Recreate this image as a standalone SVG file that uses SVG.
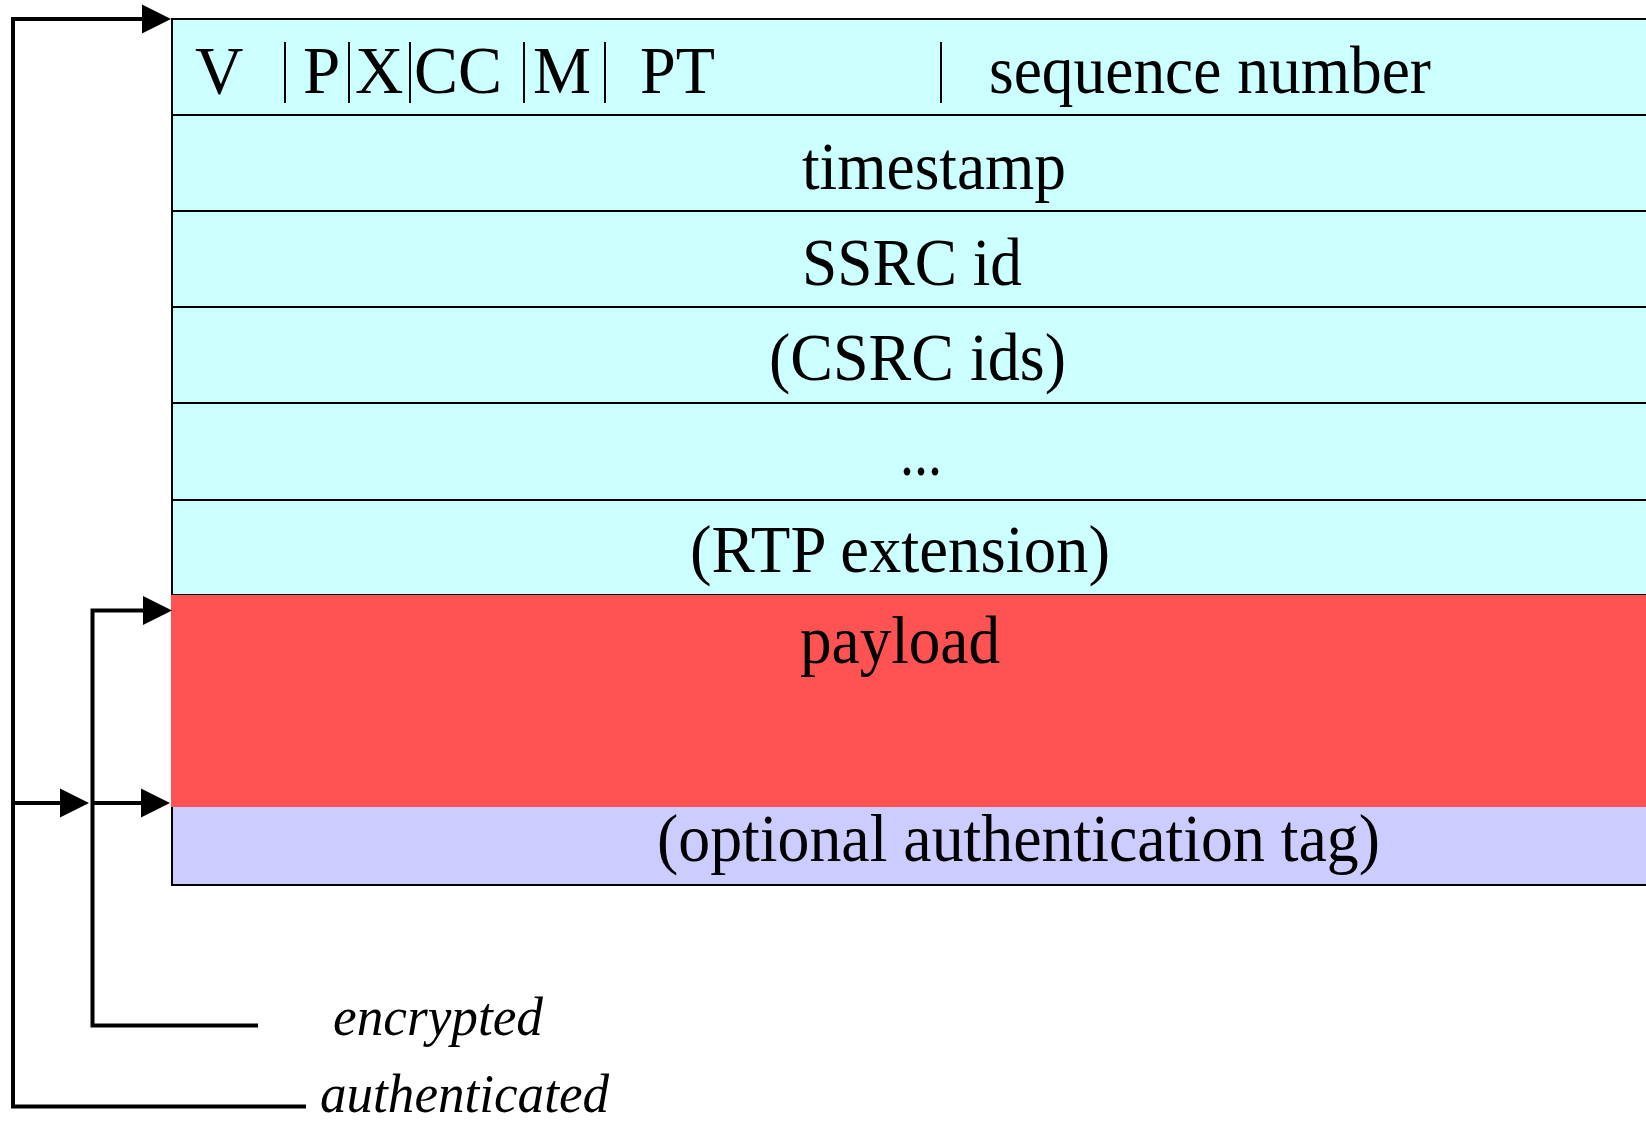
<svg xmlns="http://www.w3.org/2000/svg" width="1646" height="1124" viewBox="0 0 1646 1124">
  <style>
    .field { font-family: "Liberation Serif", "Times New Roman", serif; font-size: 67px; fill: #000; }
    .label { font-family: "Liberation Serif", "Times New Roman", serif; font-size: 55px; font-style: italic; fill: #000; }
    .hdr { fill: #CCFFFF; stroke: #000; stroke-width: 2; }
    .sep { stroke: #000; stroke-width: 2; }
    .bar { stroke: #000; stroke-width: 2; }
    .wire { fill: none; stroke: #000; stroke-width: 4; }
  </style>
  <defs>
    <marker id="arrow" markerUnits="userSpaceOnUse" markerWidth="30" markerHeight="30" refX="0" refY="14.5" orient="auto" overflow="visible">
      <path d="M0,0 L29,14.5 L0,29 Z" fill="#000"/>
    </marker>
  </defs>

  <!-- RTP header words -->
  <g id="header">
    <rect class="hdr" x="172" y="19" width="1500" height="576"/>
    <line class="sep" x1="172" y1="115" x2="1660" y2="115"/>
    <line class="sep" x1="172" y1="211" x2="1660" y2="211"/>
    <line class="sep" x1="172" y1="307" x2="1660" y2="307"/>
    <line class="sep" x1="172" y1="403" x2="1660" y2="403"/>
    <line class="sep" x1="172" y1="500" x2="1660" y2="500"/>
  </g>

  <g id="word-first">
    <text class="field" x="195" y="93">V</text>
    <text class="field" x="303" y="93">P</text>
    <text class="field" x="355" y="93">X</text>
    <text class="field" x="414" y="93" textLength="88" lengthAdjust="spacingAndGlyphs">CC</text>
    <text class="field" x="533" y="93" textLength="58" lengthAdjust="spacingAndGlyphs">M</text>
    <text class="field" x="640" y="93" textLength="75" lengthAdjust="spacingAndGlyphs">PT</text>
    <text class="field" x="989" y="93" textLength="442" lengthAdjust="spacingAndGlyphs">sequence number</text>
    <line class="bar" x1="285" y1="42" x2="285" y2="103"/>
    <line class="bar" x1="349" y1="42" x2="349" y2="103"/>
    <line class="bar" x1="410" y1="42" x2="410" y2="103"/>
    <line class="bar" x1="524" y1="42" x2="524" y2="103"/>
    <line class="bar" x1="605" y1="42" x2="605" y2="103"/>
    <line class="bar" x1="941" y1="42" x2="941" y2="103"/>
  </g>

  <g id="timestamp">
    <text class="field" x="802" y="189" textLength="264" lengthAdjust="spacingAndGlyphs">timestamp</text>
  </g>

  <g id="ssrc">
    <text class="field" x="802" y="285" textLength="220" lengthAdjust="spacingAndGlyphs">SSRC id</text>
  </g>

  <g id="csrc">
    <text class="field" x="769" y="380" textLength="297" lengthAdjust="spacingAndGlyphs">(CSRC ids)</text>
  </g>

  <g id="more">
    <text class="field" x="900" y="475" textLength="42" lengthAdjust="spacingAndGlyphs">...</text>
  </g>

  <g id="extension">
    <text class="field" x="690" y="572" textLength="420" lengthAdjust="spacingAndGlyphs">(RTP extension)</text>
  </g>

  <g id="payload">
    <rect x="171" y="595" width="1500" height="212" fill="#FF5252"/>
    <text class="field" x="800" y="663" textLength="200" lengthAdjust="spacingAndGlyphs">payload</text>
  </g>

  <g id="auth-tag">
    <path d="M172,807 L172,885 L1660,885" fill="none" stroke="#000" stroke-width="2"/>
    <rect x="173" y="807" width="1500" height="77" fill="#CCCCFF"/>
    <text class="field" x="657" y="861" textLength="723" lengthAdjust="spacingAndGlyphs">(optional authentication tag)</text>
  </g>

  <g id="legend-encrypted">
    <text class="label" x="333" y="1035" textLength="210" lengthAdjust="spacingAndGlyphs">encrypted</text>
  </g>

  <g id="legend-authenticated">
    <text class="label" x="320" y="1112" font-size="54" textLength="289" lengthAdjust="spacingAndGlyphs">authenticated</text>
  </g>

  <!-- bracket connectors -->
  <g id="connectors">
    <path class="wire" d="M306,1106.5 H13 V19 H142" marker-end="url(#arrow)"/>
    <path class="wire" d="M13,803 H60" marker-end="url(#arrow)"/>
    <path class="wire" d="M258,1025.5 H92.5 V610.5 H143" marker-end="url(#arrow)"/>
    <path class="wire" d="M92.5,803 H141" marker-end="url(#arrow)"/>
  </g>
</svg>
